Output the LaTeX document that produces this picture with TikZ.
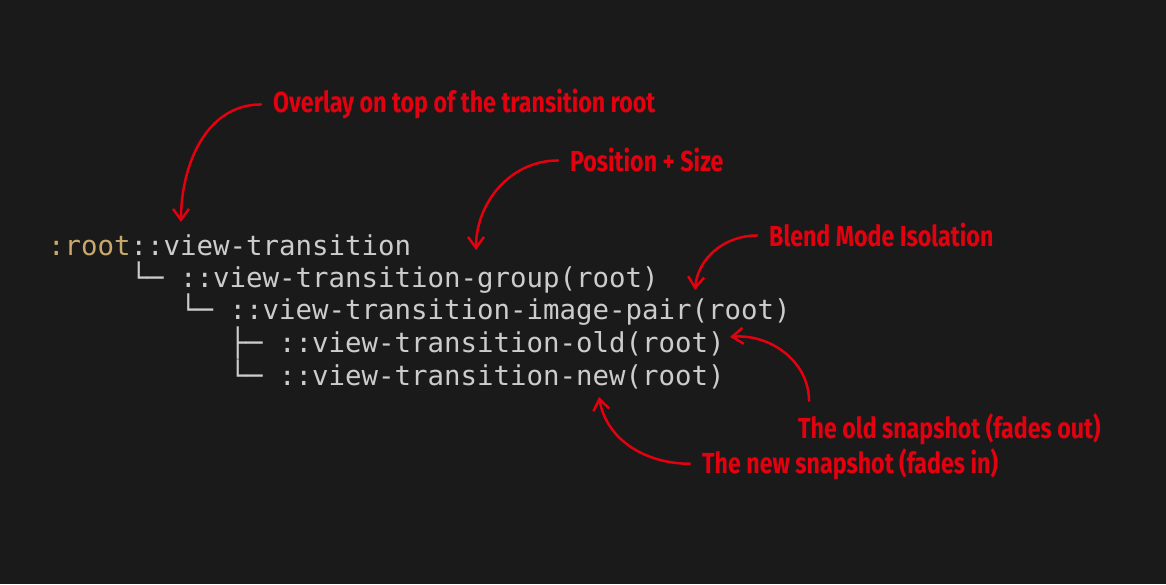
\documentclass[tikz,border=0pt]{standalone}
\usepackage{fontspec}
\usetikzlibrary{arrows.meta}
\newfontfamily\codefont{DejaVu Sans Mono}
\newfontfamily\notefont[FakeStretch=0.8]{Fira Sans}
\definecolor{canvas}{HTML}{1A1A1A}
\definecolor{codegray}{HTML}{CCCCCC}
\definecolor{rootgold}{HTML}{C9A86C}
\definecolor{markred}{HTML}{E3000F}
\tikzset{
  code/.style={anchor=base west, inner sep=0pt, text=codegray,
    font=\codefont\fontsize{27.4}{32}\selectfont},
  note/.style={anchor=base west, inner xsep=12pt, inner ysep=2pt, text=markred,
    font=\notefont\bfseries\fontsize{29}{34}\selectfont},
  callout/.style={markred, line width=2.5pt, line cap=round,
    -{Straight Barb[length=11pt,width=16pt]}}
}

\begin{document}
\begin{tikzpicture}[x=1pt,y=1pt]
  \fill[canvas] (0,0) rectangle (1166,584);
  \useasboundingbox (0,0) rectangle (1166,584);
  \node[code] (rootline) at (48,328) {\textcolor{rootgold}{:root}::view-transition};
  \foreach \n/\c/\y/\t in {groupline/5/296/{└─ ::view-transition-group(root)},
      pairline/8/264/{└─ ::view-transition-image-pair(root)},
      oldline/11/232/{├─ ::view-transition-old(root)},
      newline/11/199/{└─ ::view-transition-new(root)}}
    \node[code] (\n) at (48+16.5*\c,\y) {\t};
  \node[note] (overlaynote) at (261,471) {Overlay on top of the transition root};
  \node[note] (sizenote) at (558,412) {Position + Size};
  \node[note] (blendnote) at (757,337) {Blend Mode Isolation};
  \node[note] (oldnote) at (786,146) {The old snapshot (fades out)};
  \node[note] (newnote) at (690,111) {The new snapshot (fades in)};
  \coordinate (overlaytip) at (181,362);
  \coordinate (sizetip) at (476,334);
  \coordinate (blendtip) at (695,294);
  \coordinate (oldtip) at (730,247);
  \coordinate (newtip) at (599,187);
  \draw[callout] (overlaynote.west) to[out=180,in=90] (overlaytip);
  \draw[callout] (sizenote.west) to[out=180,in=90] (sizetip);
  \draw[callout] (blendnote.west) to[out=180,in=85] (blendtip);
  \draw[callout] ([xshift=23pt,yshift=10pt]oldnote.north west) to[out=90,in=5] (oldtip);
  \draw[callout] (newnote.west) to[out=180,in=-80] (newtip);
\end{tikzpicture}
\end{document}
